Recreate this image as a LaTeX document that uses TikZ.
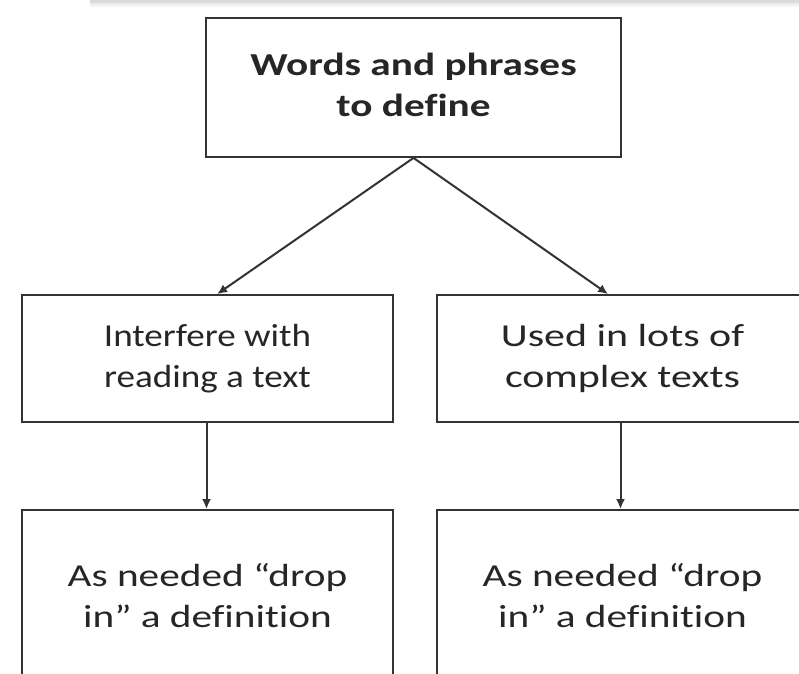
\documentclass[tikz,border=0pt]{standalone}
\usepackage{fontspec}
\setmainfont{Carlito}[Ligatures=CommonOff]
\usetikzlibrary{arrows.meta}
\newcommand{\stretchtext}[2][1.29]{\scalebox{#1}[1]{\begin{tabular}{@{}c@{}}#2\end{tabular}}}
\begin{document}
\begin{tikzpicture}[x=1pt,y=1pt,
  box/.style={draw=black!80, line width=1.8pt, fill=white, inner sep=0pt, align=center,
    font=\fontsize{32}{41}\selectfont, text=black!85},
  conn/.style={draw=black!80, line width=2pt, -{Latex[length=10pt,width=9pt]}}]
\useasboundingbox (0,0) rectangle (799,-673);
\clip (0,0) rectangle (799,-673);
\fill[white] (0,0) rectangle (799,-673);
\fill[black!14] (90,0) rectangle (799,-3);
\fill[black!8] (90,-3) rectangle (799,-5);
\fill[black!4] (90,-5) rectangle (799,-7);
\node[box, minimum width=415pt, minimum height=139pt, font=\fontsize{32}{41}\selectfont\bfseries] (top) at (413.5,-87.5) {\stretchtext{Words and phrases\\to define}};
\node[box, minimum width=371pt, minimum height=127pt] (midl) at (207.5,-358.5) {\stretchtext[1.16]{Interfere with\\reading a text}};
\node[box, minimum width=371pt, minimum height=127pt] (midr) at (622.5,-358.5) {\stretchtext[1.31]{Used in lots of\\complex texts}};
\node[box, minimum width=371pt, minimum height=178pt] (botl) at (207.5,-599) {\stretchtext{As needed “drop\\in” a definition}};
\node[box, minimum width=371pt, minimum height=178pt] (botr) at (622.5,-599) {\stretchtext{As needed “drop\\in” a definition}};
\coordinate (al) at ([xshift=196pt]midl.north west);
\coordinate (ar) at ([xshift=172pt]midr.north west);
\draw[conn] (top.south) -- (al);
\draw[conn] (top.south) -- (ar);
\draw[conn] ([xshift=-1pt]midl.south) -- ([xshift=-1pt]botl.north);
\draw[conn] ([xshift=-2pt]midr.south) -- ([xshift=-2pt]botr.north);
\end{tikzpicture}
\end{document}
